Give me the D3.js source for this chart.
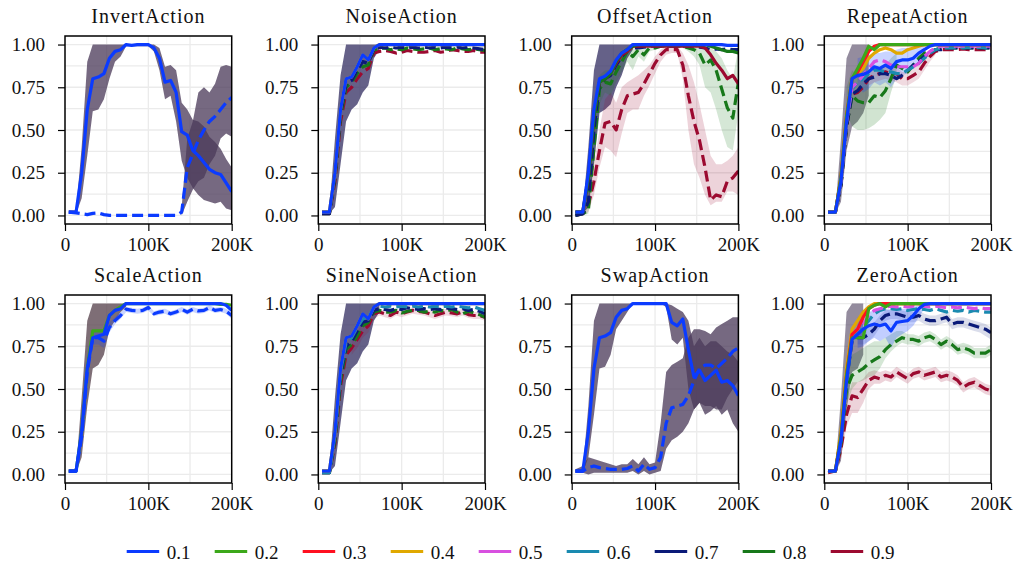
<!DOCTYPE html>
<html><head><meta charset="utf-8">
<script src="https://cdn.jsdelivr.net/npm/d3@7"></script>
<style>
html,body{margin:0;padding:0;background:#fff;}
svg text{font-family:"Liberation Serif","DejaVu Serif",serif;fill:#111;}
</style></head>
<body><svg id="chart" width="1016" height="562"></svg>
<script>
const N = null;
// x positions (thousands of steps)
const stepsK = [4.5,13.3,20,26.7,33.3,40,46.7,53.3,60,66.7,73.3,80,86.7,93.3,100,106.7,113.3,120,126.7,133.3,140,146.7,153.3,160,166.7,173.3,180,186.7,193.3,200];
const seriesLabels = ["0.1","0.2","0.3","0.4","0.5","0.6","0.7","0.8","0.9"];
const seriesColors = ["#0b3bff","#3ca81a","#ff1020","#e0a800","#d850e0","#1a8ab0","#0a1a78","#17781a","#9c0a30"];
const panelTitles = ["InvertAction","NoiseAction","OffsetAction","RepeatAction","ScaleAction","SineNoiseAction","SwapAction","ZeroAction"];
const yTicks = [0,0.25,0.5,0.75,1.0];
const xTicksK = [0,100,200];

// ---- InvertAction
const invertSolid   = [0.02,0.02,0.25,0.62,0.80,0.81,0.83,0.92,0.96,0.97,1.00,0.995,1.00,1.00,1.00,0.98,0.92,0.78,0.79,0.72,0.49,0.47,0.38,0.35,0.31,0.27,0.25,0.24,0.19,0.14];
const invertSolidLo = [0.01,0.01,0.10,0.35,0.61,0.62,0.68,0.80,0.90,0.93,0.99,0.99,0.99,0.99,0.99,0.96,0.85,0.68,0.70,0.55,0.32,0.22,0.16,0.12,0.09,0.08,0.07,0.08,0.04,0.03];
const invertSolidHi = [0.03,0.03,0.40,0.90,1,1,1,1,1,1,1,1,1,1,1,1,0.98,0.87,0.88,0.85,0.66,0.62,0.56,0.55,0.52,0.46,0.43,0.39,0.33,0.28];
const invertDash    = [0.02,0.015,0.01,0.005,0.012,0.015,0.005,0,0,0,0,0,0,0,0,0,0,0,0,0,0.02,0.28,0.36,0.44,0.50,0.55,0.58,0.62,0.66,0.69];
const invertDashLo  = [N,N,N,N,N,N,N,N,N,N,N,N,N,N,N,N,N,N,N,N,0,0.08,0.15,0.20,0.22,0.30,0.35,0.45,0.48,0.46];
const invertDashHi  = [N,N,N,N,N,N,N,N,N,N,N,N,N,N,N,N,N,N,N,N,0.05,0.45,0.55,0.72,0.75,0.72,0.77,0.87,0.88,0.87];

// ---- NoiseAction
const noiseSolid  = [0.02,0.02,0.25,0.62,0.80,0.81,0.87,0.94,0.91,0.98,1,1,1,1,1,1,1,1,1,1,1,1,1,1,1,1,1,1,1,1];
const noiseBandLo = [0.01,0.01,0.05,0.30,0.55,0.62,0.65,0.72,0.76,0.92,0.97,N,N,N,N,N,N,N,N,N,N,N,N,N,N,N,N,N,N,N];
const noiseBandHi = [0.03,0.03,0.45,0.82,1,1,1,1,1,1,1,N,N,N,N,N,N,N,N,N,N,N,N,N,N,N,N,N,N,N];
const noiseDash09 = [0.01,0.01,0.20,0.55,0.72,0.75,0.80,0.84,0.86,0.95,0.96,0.965,0.96,0.95,0.955,0.965,0.96,0.955,0.955,0.96,0.965,0.955,0.96,0.97,0.965,0.96,0.96,0.965,0.955,0.955];
const noiseDash08 = [0.01,0.01,0.22,0.58,0.75,0.78,0.83,0.87,0.88,0.97,0.975,0.98,0.97,0.975,0.97,0.98,0.975,0.97,0.975,0.98,0.97,0.975,0.975,0.97,0.98,0.975,0.97,0.975,0.97,0.965];
const noiseDash07 = [0.01,0.01,0.23,0.60,0.77,0.79,0.85,0.90,0.89,0.975,0.985,0.98,0.985,0.98,0.985,0.98,0.985,0.98,0.985,0.98,0.985,0.98,0.985,0.98,0.985,0.98,0.985,0.98,0.975,0.97];

// ---- OffsetAction
const offsetSolid   = [0.02,0.02,0.25,0.62,0.80,0.815,0.845,0.91,0.95,0.97,1,1,1,1,1,1,1,1,1,1,1,1,1,1,1,1,1,0.995,0.995,0.995];
const offsetSolid09 = [0.02,0.02,0.22,0.58,0.78,0.80,0.83,0.89,0.94,0.96,0.99,0.99,0.99,0.99,0.99,0.99,0.99,0.99,0.99,0.99,0.99,0.99,0.99,0.98,0.94,0.89,0.85,0.80,0.82,0.77];
const offsetSolid08 = [0.02,0.02,0.22,0.58,0.78,0.80,0.83,0.90,0.95,0.97,0.99,1,1,1,1,1,1,1,1,1,1,1,1,1,0.99,0.98,0.97,0.96,0.96,0.95];
const offsetDash07  = [0.0,0.01,0.08,0.50,0.77,0.80,0.82,0.88,0.93,0.97,0.98,0.98,0.985,0.99,0.99,0.99,0.99,0.99,0.99,0.99,0.99,0.99,0.985,0.98,0.97,0.975,0.97,0.975,0.97,0.97];
const offsetDash08  = [0.0,0.01,0.03,0.40,0.74,0.78,0.77,0.84,0.90,0.96,0.93,0.97,0.94,0.98,0.98,0.99,0.99,0.99,0.99,0.99,0.98,0.97,0.95,0.88,0.91,0.85,0.74,0.63,0.57,0.78];
const offsetDash09  = [0.0,0.01,0.06,0.20,0.38,0.54,0.55,0.50,0.62,0.70,0.71,0.72,0.77,0.83,0.89,0.94,0.97,0.97,0.97,0.88,0.70,0.55,0.44,0.28,0.09,0.12,0.11,0.20,0.22,0.26];
const offsetBandLo   = [0.01,0.01,0.05,0.30,0.60,0.62,0.65,0.75,0.82,0.92,0.97,N,N,N,N,N,N,N,N,N,N,N,N,N,N,N,N,N,N,N];
const offsetBandHi   = [0.03,0.03,0.40,0.85,1,1,1,1,1,1,1,N,N,N,N,N,N,N,N,N,N,N,N,N,N,N,N,N,N,N];
const offsetBand09Lo = [0,0,0.02,0.12,0.28,0.40,0.38,0.34,0.48,0.60,0.62,0.62,0.70,0.76,0.83,0.90,0.94,0.95,0.95,0.80,0.50,0.30,0.22,0.12,0.06,0.08,0.08,0.14,0.14,0.12];
const offsetBand09Hi = [0.01,0.02,0.10,0.30,0.50,0.68,0.72,0.66,0.75,0.78,0.80,0.82,0.85,0.88,0.93,0.97,0.99,0.99,0.99,0.95,0.88,0.78,0.65,0.50,0.35,0.30,0.30,0.32,0.35,0.40];
const offsetBand08Lo = [0,0,0.01,0.30,0.65,0.72,0.70,0.78,0.84,0.90,0.85,0.93,0.90,0.96,0.97,0.98,0.98,0.98,0.98,0.98,0.96,0.93,0.88,0.75,0.72,0.62,0.50,0.40,0.38,0.60];
const offsetBand08Hi = [0.01,0.02,0.06,0.50,0.82,0.85,0.85,0.90,0.95,0.99,0.98,1,0.98,1,1,1,1,1,1,1,1,1,1,0.98,0.98,0.96,0.92,0.85,0.80,0.98];

// ---- RepeatAction
const repeatSolid01 = [0.02,0.02,0.20,0.55,0.80,0.82,0.825,0.84,0.87,0.86,0.88,0.86,0.90,0.91,0.91,0.92,0.95,0.97,0.99,1,1,1,1,1,1,1,1,1,1,1];
const repeatSolid02 = [0.02,0.02,0.22,0.58,0.80,0.86,0.92,0.99,0.97,1,1,1,1,1,1,1,1,1,1,1,1,1,1,1,1,1,1,1,1,1];
const repeatSolid03 = [0.02,0.02,0.22,0.58,0.80,0.84,0.90,0.96,0.99,1,1,1,1,1,1,1,1,1,1,1,1,1,1,1,1,1,1,1,1,1];
const repeatSolid04 = [0.02,0.02,0.22,0.58,0.80,0.83,0.86,0.92,0.95,0.97,0.98,0.97,0.95,0.95,0.97,0.98,0.99,1,1,1,1,1,1,1,1,1,1,1,1,1];
const repeatDash05  = [0.02,0.02,0.20,0.55,0.75,0.78,0.82,0.86,0.90,0.91,0.90,0.88,0.87,0.87,0.87,0.87,0.89,0.93,0.96,0.98,0.99,0.99,0.99,0.99,0.99,0.99,0.99,0.99,0.99,0.99];
const repeatDash06  = [0.02,0.02,0.20,0.55,0.74,0.78,0.80,0.83,0.85,0.85,0.84,0.84,0.83,0.83,0.85,0.87,0.89,0.92,0.95,0.97,0.98,0.98,0.98,0.985,0.98,0.985,0.98,0.985,0.98,0.98];
const repeatDash07  = [0.02,0.02,0.18,0.52,0.71,0.73,0.77,0.80,0.81,0.83,0.83,0.82,0.80,0.82,0.85,0.88,0.90,0.93,0.95,0.97,0.97,0.98,0.98,0.98,0.98,0.98,0.98,0.98,0.98,0.98];
const repeatDash08  = [0.02,0.02,0.18,0.52,0.70,0.67,0.66,0.66,0.70,0.69,0.73,0.80,0.88,0.86,0.84,0.88,0.92,0.95,0.96,0.97,0.98,0.98,0.98,0.98,0.98,0.98,0.98,0.98,0.98,0.98];
const repeatDash09  = [0.02,0.02,0.18,0.52,0.71,0.72,0.75,0.80,0.82,0.83,0.84,0.83,0.83,0.80,0.80,0.82,0.84,0.89,0.93,0.96,0.97,0.97,0.97,0.97,0.975,0.97,0.97,0.97,0.97,0.97];
const repeatBandLo   = [0.01,0.01,0.08,0.38,0.52,0.55,0.60,0.70,N,N,N,N,N,N,N,N,N,N,N,N,N,N,N,N,N,N,N,N,N,N];
const repeatBandHi   = [0.03,0.03,0.45,0.92,1,1,1,1,N,N,N,N,N,N,N,N,N,N,N,N,N,N,N,N,N,N,N,N,N,N];
const repeatBand08Lo = [N,N,N,0.60,0.52,0.50,0.50,0.51,0.53,0.56,0.60,0.72,0.82,N,N,N,N,N,N,N,N,N,N,N,N,N,N,N,N,N];
const repeatBand08Hi = [N,N,N,0.75,0.85,0.82,0.82,0.83,0.86,0.85,0.88,0.92,0.95,N,N,N,N,N,N,N,N,N,N,N,N,N,N,N,N,N];
const repeatBand01Lo = [N,N,N,N,N,0.75,0.72,0.74,0.78,0.76,0.78,0.75,0.80,0.82,0.83,0.86,0.90,0.94,N,N,N,N,N,N,N,N,N,N,N,N];
const repeatBand01Hi = [N,N,N,N,N,0.92,0.93,0.94,0.95,0.95,0.96,0.96,0.97,0.98,0.98,0.98,0.99,1.0,N,N,N,N,N,N,N,N,N,N,N,N];
const repeatBand09Lo = [N,N,N,N,N,N,N,0.76,0.78,0.79,0.80,0.79,0.78,0.76,0.76,0.78,0.80,0.85,0.90,0.94,N,N,N,N,N,N,N,N,N,N];
const repeatBand09Hi = [N,N,N,N,N,N,N,0.84,0.86,0.87,0.88,0.87,0.87,0.84,0.84,0.86,0.88,0.93,0.96,0.98,N,N,N,N,N,N,N,N,N,N];

// ---- ScaleAction
const scaleSolid   = [0.02,0.02,0.25,0.62,0.80,0.81,0.82,0.93,0.96,0.97,1,1,1,1,1,1,1,1,1,1,1,1,1,1,1,1,1,1,0.99,0.96];
const scaleSolid02 = [0.02,0.02,0.25,0.62,0.84,0.84,0.84,0.93,0.96,0.98,1,1,1,1,1,1,1,1,1,1,1,1,1,1,1,1,1,0.995,0.995,0.99];
const scaleDash    = [0.02,0.02,0.22,0.60,0.80,0.80,0.78,0.86,0.90,0.93,0.967,0.96,0.957,0.96,0.977,0.94,0.95,0.955,0.94,0.95,0.967,0.95,0.967,0.957,0.96,0.977,0.96,0.965,0.955,0.93];
const scaleBandLo   = [0.01,0.01,0.10,0.40,0.62,0.64,0.70,0.85,0.90,0.95,0.98,N,N,N,N,N,N,N,N,N,N,N,N,N,N,N,N,N,N,N];
const scaleBandHi   = [0.03,0.03,0.45,0.90,1,1,1,1,1,1,1,N,N,N,N,N,N,N,N,N,N,N,N,N,N,N,N,N,N,N];
const scaleBand01Lo = [N,N,N,N,0.76,0.76,0.74,0.83,0.88,0.91,0.95,0.945,0.94,0.945,0.96,0.925,0.935,0.94,0.925,0.935,0.95,0.935,0.95,0.94,0.945,0.96,0.945,0.95,0.94,0.91];
const scaleBand01Hi = [N,N,N,N,0.84,0.84,0.83,0.89,0.92,0.95,0.98,0.975,0.97,0.975,0.99,0.955,0.965,0.97,0.955,0.965,0.98,0.965,0.98,0.97,0.975,0.99,0.975,0.98,0.97,0.95];

// ---- SineNoiseAction
const sineSolid  = [0.02,0.02,0.25,0.62,0.80,0.81,0.87,0.94,0.91,0.98,1,1,1,1,1,1,1,1,1,1,1,1,1,1,1,1,1,1,1,1];
const sineBandLo = [0.01,0.01,0.05,0.30,0.55,0.62,0.65,0.72,0.76,0.90,0.95,N,N,N,N,N,N,N,N,N,N,N,N,N,N,N,N,N,N,N];
const sineBandHi = [0.03,0.03,0.45,0.82,1,1,1,1,1,1,1,N,N,N,N,N,N,N,N,N,N,N,N,N,N,N,N,N,N,N];
const sineDash06 = [0.01,0.01,0.23,0.60,0.77,0.80,0.86,0.91,0.92,0.98,0.985,0.98,0.985,0.98,0.985,0.98,0.985,0.98,0.985,0.98,0.985,0.98,0.985,0.98,0.985,0.98,0.975,0.98,0.97,0.96];
const sineDash07 = [0.01,0.01,0.22,0.58,0.75,0.78,0.84,0.89,0.90,0.96,0.97,0.965,0.96,0.97,0.965,0.975,0.97,0.965,0.97,0.965,0.97,0.965,0.975,0.97,0.965,0.97,0.96,0.965,0.955,0.94];
const sineDash08 = [0.01,0.01,0.20,0.55,0.73,0.76,0.81,0.87,0.89,0.95,0.96,0.95,0.95,0.96,0.945,0.955,0.96,0.96,0.95,0.955,0.95,0.96,0.955,0.965,0.95,0.94,0.955,0.945,0.935,0.92];
const sineDash09 = [0.01,0.01,0.18,0.52,0.70,0.74,0.79,0.84,0.87,0.94,0.95,0.94,0.93,0.95,0.94,0.95,0.96,0.955,0.95,0.94,0.93,0.94,0.95,0.945,0.94,0.95,0.935,0.93,0.93,0.92];
const sineBand09Lo = [N,N,N,N,N,0.70,0.74,0.80,0.83,0.91,0.93,0.92,0.91,0.93,0.92,0.93,0.94,0.935,0.93,0.92,0.91,0.92,0.93,0.925,0.92,0.93,0.915,0.91,0.91,0.90];
const sineBand09Hi = [N,N,N,N,N,0.78,0.84,0.88,0.91,0.97,0.97,0.96,0.95,0.97,0.96,0.97,0.98,0.975,0.97,0.96,0.95,0.96,0.97,0.965,0.96,0.97,0.955,0.95,0.95,0.94];

// ---- SwapAction
const swapSolid   = [0.02,0.02,0.25,0.62,0.80,0.81,0.83,0.92,0.96,0.97,1,1,1,1,1,1,1,0.89,0.87,0.91,0.73,0.57,0.61,0.55,0.58,0.61,0.54,0.55,0.52,0.46];
const swapSolidLo = [0.01,0.01,0.10,0.35,0.62,0.63,0.70,0.85,0.90,0.95,1,1,1,1,1,1,0.98,0.79,0.76,0.80,0.50,0.38,0.42,0.35,0.37,0.40,0.35,0.38,0.30,0.25];
const swapSolidHi = [0.03,0.03,0.40,0.90,1,1,1,1,1,1,1,1,1,1,1,1,1,0.99,0.97,0.95,0.90,0.75,0.80,0.75,0.78,0.78,0.75,0.72,0.70,0.66];
const swapDash    = [0.02,0.02,0.04,0.05,0.04,0.035,0.03,0.03,0.03,0.035,0.05,0.02,0.06,0.03,0.04,0.10,0.30,0.39,0.40,0.41,0.46,0.55,0.62,0.64,0.64,0.62,0.65,0.68,0.72,0.74];
const swapDashLo  = [0.01,0.01,0.0,0.01,0.01,0.01,0.01,0.01,0.01,0.01,0.02,0.0,0.02,0.0,0.01,0.02,0.15,0.20,0.22,0.25,0.30,0.38,0.42,0.40,0.40,0.38,0.38,0.45,0.50,0.55];
const swapDashHi  = [0.03,0.05,0.10,0.09,0.08,0.07,0.06,0.05,0.06,0.06,0.09,0.06,0.10,0.06,0.07,0.30,0.60,0.64,0.66,0.68,0.80,0.85,0.85,0.84,0.82,0.86,0.88,0.90,0.92,0.92];

// ---- ZeroAction
const zeroSolid01 = [0.02,0.02,0.20,0.55,0.79,0.82,0.85,0.87,0.88,0.87,0.88,0.84,0.89,0.895,0.90,0.93,0.97,0.995,1,1,1,1,1,1,1,1,1,1,1,1];
const zeroSolid02 = [0.02,0.02,0.22,0.58,0.80,0.80,0.80,0.97,0.99,1,0.98,1,1,1,1,1,1,1,1,1,1,1,1,1,1,1,1,1,1,1];
const zeroSolid03 = [0.02,0.02,0.22,0.58,0.82,0.85,0.92,0.97,0.99,1,1,1,1,1,1,1,1,1,1,1,1,1,1,1,1,1,1,1,1,1];
const zeroSolid04 = [0.02,0.02,0.25,0.62,0.85,0.90,0.95,0.98,1,1,1,1,1,1,1,1,1,1,1,1,1,1,1,1,1,1,1,1,1,1];
const zeroDash05  = [0.02,0.02,0.22,0.58,0.82,0.85,0.88,0.93,0.96,0.97,0.98,0.985,0.98,0.985,0.98,0.985,0.98,0.985,0.98,0.985,0.98,0.975,0.98,0.975,0.98,0.975,0.97,0.975,0.97,0.97];
const zeroDash06  = [0.02,0.02,0.20,0.55,0.80,0.83,0.86,0.90,0.94,0.96,0.97,0.97,0.965,0.97,0.96,0.965,0.97,0.965,0.96,0.97,0.96,0.95,0.96,0.955,0.96,0.95,0.96,0.955,0.95,0.95];
const zeroDash07  = [0.02,0.02,0.20,0.55,0.78,0.80,0.80,0.82,0.85,0.90,0.93,0.94,0.94,0.93,0.92,0.92,0.93,0.91,0.90,0.90,0.91,0.92,0.88,0.89,0.89,0.88,0.87,0.86,0.85,0.83];
const zeroDash08  = [0.02,0.02,0.18,0.50,0.58,0.60,0.62,0.65,0.67,0.69,0.73,0.76,0.78,0.80,0.79,0.79,0.78,0.80,0.81,0.79,0.76,0.78,0.76,0.73,0.74,0.73,0.71,0.71,0.71,0.73];
const zeroDash09  = [0.01,0.02,0.15,0.35,0.46,0.45,0.50,0.55,0.57,0.56,0.58,0.57,0.60,0.58,0.56,0.59,0.60,0.58,0.59,0.60,0.57,0.58,0.57,0.55,0.51,0.53,0.54,0.52,0.50,0.49];
const zeroBandLo   = [0.01,0.01,0.08,0.38,0.60,0.62,0.70,N,N,N,N,N,N,N,N,N,N,N,N,N,N,N,N,N,N,N,N,N,N,N];
const zeroBandHi   = [0.03,0.03,0.45,0.95,1,1,1,N,N,N,N,N,N,N,N,N,N,N,N,N,N,N,N,N,N,N,N,N,N,N];
const zeroBand09Lo = [N,N,0.10,0.28,0.36,0.36,0.42,0.50,0.53,0.53,0.55,0.54,0.57,0.55,0.53,0.56,0.57,0.55,0.56,0.57,0.54,0.55,0.54,0.52,0.48,0.50,0.51,0.49,0.47,0.46];
const zeroBand09Hi = [N,N,0.20,0.42,0.54,0.54,0.56,0.60,0.61,0.60,0.61,0.60,0.63,0.61,0.59,0.62,0.63,0.61,0.62,0.63,0.60,0.61,0.60,0.58,0.54,0.56,0.57,0.55,0.53,0.52];
const zeroBand08Lo = [N,N,N,0.40,0.50,0.54,0.55,0.57,0.58,0.62,0.68,0.72,0.75,0.77,0.76,0.76,0.75,0.77,0.78,0.76,0.73,0.75,0.73,0.70,0.71,0.70,0.68,0.68,0.68,0.70];
const zeroBand08Hi = [N,N,N,0.62,0.70,0.72,0.74,0.76,0.78,0.78,0.80,0.82,0.84,0.84,0.82,0.82,0.81,0.83,0.84,0.82,0.79,0.81,0.79,0.76,0.77,0.76,0.74,0.74,0.74,0.76];
const zeroBand07Lo = [N,N,N,N,N,0.76,0.76,0.78,0.81,0.86,0.90,0.91,0.91,0.90,0.89,0.89,0.90,0.88,0.87,0.87,0.88,0.89,0.85,0.86,0.86,0.85,0.84,0.83,0.81,0.79];
const zeroBand07Hi = [N,N,N,N,N,0.84,0.85,0.86,0.89,0.93,0.96,0.97,0.97,0.96,0.95,0.95,0.96,0.94,0.93,0.93,0.94,0.95,0.91,0.92,0.92,0.91,0.90,0.89,0.88,0.86];
const zeroBand01Lo = [N,N,N,N,N,0.74,0.75,0.78,0.80,0.78,0.80,0.74,0.80,0.82,0.84,0.87,0.92,0.97,N,N,N,N,N,N,N,N,N,N,N,N];
const zeroBand01Hi = [N,N,N,N,N,0.92,0.94,0.95,0.96,0.96,0.97,0.96,0.97,0.97,0.97,0.98,0.99,1.0,N,N,N,N,N,N,N,N,N,N,N,N];

// ------------ build panel table from arrays
const DARK = "#4b3a5a";
const band = (lo, hi, color, op) => ({lo, hi, color, op});
const line = (s, dash, v) => ({s, dash, v});
const panels = [
  {bands:[band(invertSolidLo,invertSolidHi,DARK,0.76), band(invertDashLo,invertDashHi,DARK,0.76)],
   lines:[line(0,true,invertDash), line(0,false,invertSolid)]},
  {bands:[band(noiseBandLo,noiseBandHi,"#3f3a6a",0.8)],
   lines:[line(8,true,noiseDash09), line(7,true,noiseDash08), line(6,true,noiseDash07), line(3,false,noiseSolid), line(0,false,noiseSolid)]},
  {bands:[band(offsetBandLo,offsetBandHi,"#3f3a6a",0.8), band(offsetBand09Lo,offsetBand09Hi,seriesColors[8],0.18), band(offsetBand08Lo,offsetBand08Hi,seriesColors[7],0.18)],
   lines:[line(8,true,offsetDash09), line(7,true,offsetDash08), line(6,true,offsetDash07), line(8,false,offsetSolid09), line(7,false,offsetSolid08), line(0,false,offsetSolid)]},
  {bands:[band(repeatBandLo,repeatBandHi,"#5a4e6a",0.65), band(repeatBand08Lo,repeatBand08Hi,seriesColors[7],0.2), band(repeatBand01Lo,repeatBand01Hi,seriesColors[0],0.22), band(repeatBand09Lo,repeatBand09Hi,seriesColors[8],0.15)],
   lines:[line(8,true,repeatDash09), line(7,true,repeatDash08), line(6,true,repeatDash07), line(5,true,repeatDash06), line(4,true,repeatDash05),
          line(3,false,repeatSolid04), line(2,false,repeatSolid03), line(1,false,repeatSolid02), line(0,false,repeatSolid01)]},
  {bands:[band(scaleBandLo,scaleBandHi,"#5a4550",0.78), band(scaleBand01Lo,scaleBand01Hi,seriesColors[0],0.22)],
   lines:[line(1,false,scaleSolid02), line(0,true,scaleDash), line(0,false,scaleSolid)]},
  {bands:[band(sineBandLo,sineBandHi,"#3f3a6a",0.8), band(sineBand09Lo,sineBand09Hi,seriesColors[8],0.15)],
   lines:[line(8,true,sineDash09), line(7,true,sineDash08), line(6,true,sineDash07), line(5,true,sineDash06), line(3,false,sineSolid), line(0,false,sineSolid)]},
  {bands:[band(swapSolidLo,swapSolidHi,DARK,0.76), band(swapDashLo,swapDashHi,DARK,0.76)],
   lines:[line(0,true,swapDash), line(0,false,swapSolid)]},
  {bands:[band(zeroBandLo,zeroBandHi,"#5a4e6a",0.65), band(zeroBand09Lo,zeroBand09Hi,seriesColors[8],0.18), band(zeroBand08Lo,zeroBand08Hi,seriesColors[7],0.18),
          band(zeroBand07Lo,zeroBand07Hi,seriesColors[6],0.15), band(zeroBand01Lo,zeroBand01Hi,seriesColors[0],0.25)],
   lines:[line(8,true,zeroDash09), line(7,true,zeroDash08), line(6,true,zeroDash07), line(5,true,zeroDash06), line(4,true,zeroDash05),
          line(3,false,zeroSolid04), line(2,false,zeroSolid03), line(1,false,zeroSolid02), line(0,false,zeroSolid01)]}
];

// ------------ layout
const svg = d3.select("#chart");
const colLeft = [65, 318.3, 571.7, 824.3];
const rowTop = [36, 295];
const pw = 166.7, ph = 188;
const FS = 19;

panels.forEach((p, i) => {
  const L = colLeft[i % 4], T = rowTop[Math.floor(i / 4)];
  const x = d3.scaleLinear().domain([0, 200]).range([L, L + pw]);
  const y = d3.scaleLinear().domain([-0.05, 1.05]).range([T + ph, T]);
  const g = svg.append("g");

  // grid
  const gy = d3.range(0, 1.0001, 0.125);
  g.selectAll(null).data(gy).join("line")
    .attr("x1", L).attr("x2", L + pw).attr("y1", d => y(d)).attr("y2", d => y(d))
    .attr("stroke", "#ebebeb").attr("stroke-width", 1.3);
  g.selectAll(null).data([50, 100, 150]).join("line")
    .attr("y1", T).attr("y2", T + ph).attr("x1", d => x(d)).attr("x2", d => x(d))
    .attr("stroke", "#ebebeb").attr("stroke-width", 1.3);

  const clipId = "clip" + i;
  svg.append("clipPath").attr("id", clipId).append("rect")
    .attr("x", L).attr("y", T).attr("width", pw).attr("height", ph);
  const plot = g.append("g").attr("clip-path", `url(#${clipId})`);

  // bands
  p.bands.forEach(b => {
    const area = d3.area()
      .defined((d, k) => b.lo[k] !== null && b.hi[k] !== null)
      .x((d, k) => x(stepsK[k])).y0((d, k) => y(b.lo[k])).y1((d, k) => y(b.hi[k]));
    plot.append("path").datum(stepsK).attr("d", area)
      .attr("fill", b.color).attr("fill-opacity", b.op).attr("stroke", "none");
  });
  // lines
  p.lines.forEach(l => {
    const ln = d3.line().x((d, k) => x(stepsK[k])).y(d => y(d));
    plot.append("path").datum(l.v).attr("d", ln)
      .attr("fill", "none").attr("stroke", seriesColors[l.s])
      .attr("stroke-width", 3.2)
      .attr("stroke-linejoin", "round")
      .attr("stroke-dasharray", l.dash ? "11,5" : null);
  });

  // axes
  const ax = g.append("g").attr("transform", `translate(${L},0)`)
    .call(d3.axisLeft(y).tickValues(yTicks).tickSize(7).tickPadding(13).tickFormat(d3.format(".2f")));
  const bx = g.append("g").attr("transform", `translate(0,${T + ph})`)
    .call(d3.axisBottom(x).tickValues(xTicksK).tickSize(7).tickPadding(6.5).tickFormat(d => d === 0 ? "0" : d + "K"));
  [ax, bx].forEach(a => {
    a.select(".domain").remove();
    a.selectAll(".tick line").attr("stroke", "#000").attr("stroke-width", 1.2);
    a.selectAll(".tick text").attr("font-size", FS).attr("fill", "#111");
  });

  // spines
  g.append("rect").attr("x", L).attr("y", T).attr("width", pw).attr("height", ph)
    .attr("fill", "none").attr("stroke", "#000").attr("stroke-width", 1.5);

  // title
  g.append("text").attr("x", L + pw / 2).attr("y", T - 13.5)
    .attr("text-anchor", "middle").attr("font-size", 20).attr("letter-spacing", 1)
    .text(panelTitles[i]);
});

// legend
const lg = svg.append("g");
seriesLabels.forEach((lab, k) => {
  const lx = 126.7 + k * 88.0, ly = 551.5;
  lg.append("line").attr("x1", lx).attr("x2", lx + 32.5).attr("y1", ly).attr("y2", ly)
    .attr("stroke", seriesColors[k]).attr("stroke-width", 3.2);
  lg.append("text").attr("x", lx + 40).attr("y", ly + 7.5).attr("font-size", FS).text(lab);
});
</script>
</body></html>
